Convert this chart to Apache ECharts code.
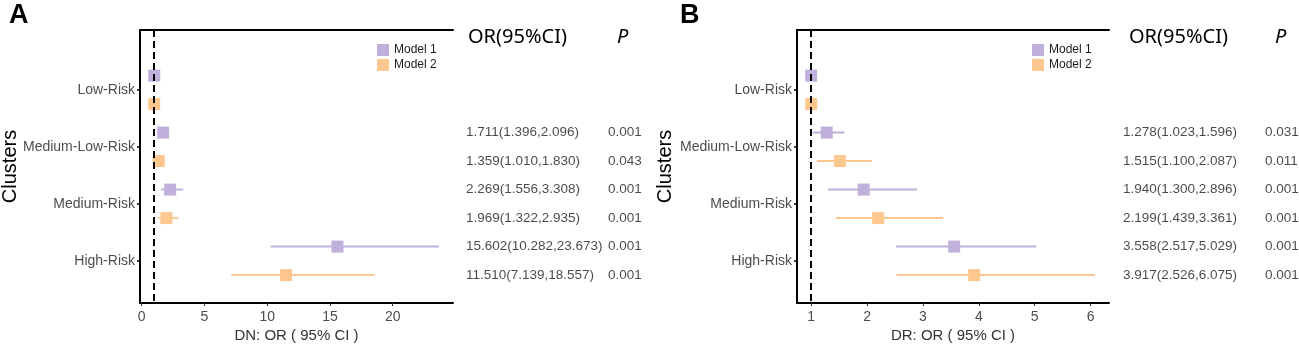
<!DOCTYPE html>
<html lang="en">

<head>
  <meta charset="UTF-8">
  <title>Forest plot</title>
  <script src="https://cdn.jsdelivr.net/npm/echarts@6/dist/echarts.min.js"></script>
  <style>
    body { margin: 0; background: #fff; }
  </style>
</head>

<body>
  <div id="chart" style="width: 1299px;height: 346px;"></div>
  <script>
    // categories (top to bottom) and models
    const clusters = ['Low-Risk', 'Medium-Low-Risk', 'Medium-Risk', 'High-Risk']
    const models = ['Model 1', 'Model 2']

    // panel A - DN
    const dnOr = [[1, 1.711, 2.269, 15.602], [1, 1.359, 1.969, 11.510]]
    const dnLo = [[1, 1.396, 1.556, 10.282], [1, 1.010, 1.322, 7.139]]
    const dnHi = [[1, 2.096, 3.308, 23.673], [1, 1.830, 2.935, 18.557]]
    const dnP = [['', '0.001', '0.001', '0.001'], ['', '0.043', '0.001', '0.001']]
    const dnTicks = [0, 5, 10, 15, 20]

    // panel B - DR
    const drOr = [[1, 1.278, 1.940, 3.558], [1, 1.515, 2.199, 3.917]]
    const drLo = [[1, 1.023, 1.300, 2.517], [1, 1.100, 1.439, 2.526]]
    const drHi = [[1, 1.596, 2.896, 5.029], [1, 2.087, 3.361, 6.075]]
    const drP = [['', '0.031', '0.001', '0.001'], ['', '0.011', '0.001', '0.001']]
    const drTicks = [1, 2, 3, 4, 5, 6]

    const colors = ['#bfb0dc', '#fdc78f']
    const dodge = [-0.25, 0.25]
    const yMin = -1.05, yMax = 3.74
    const labelColor = '#4d4d4d'

    const chart = echarts.init(document.getElementById('chart'))

    // ggplot style 5% expansion of the data range
    function range(lo, hi) {
      const a = Math.min(...lo.flat()), b = Math.max(...hi.flat())
      const pad = (b - a) * 0.05
      return [a - pad, b + pad]
    }

    const grids = [], xAxes = [], yAxes = [], series = []

    function panel(p, left, width, tableLeft, pLeft, orv, lo, hi, pv, ticks, xname) {
      const g = grids.length
      const [xmin, xmax] = range(lo, hi)
      grids.push({ left: left, top: 30, width: width, height: 273, outerBoundsMode: 'none' })
      grids.push({ left: tableLeft, top: 30, width: 200, height: 273, outerBoundsMode: 'none' })

      // bottom axis
      xAxes.push({
        type: 'value', gridIndex: g, min: xmin, max: xmax, splitLine: { show: false },
        axisLine: { onZero: false, lineStyle: { color: '#000', width: 2 } },
        axisTick: { customValues: ticks, length: 3, lineStyle: { color: '#333' } },
        axisLabel: { customValues: ticks, color: labelColor, fontSize: 14, fontFamily: 'Liberation Sans', margin: 7 },
        name: xname, nameLocation: 'middle', nameGap: 25, nameMoveOverlap: false,
        nameTextStyle: { color: '#333', fontSize: 15, fontFamily: 'Liberation Sans' }
      })
      // top border
      xAxes.push({
        type: 'value', gridIndex: g, position: 'top', min: xmin, max: xmax,
        axisLine: { onZero: false, lineStyle: { color: '#000', width: 2 } },
        axisTick: { show: false }, axisLabel: { show: false }, splitLine: { show: false }
      })
      // table axis (pixel columns)
      xAxes.push({ type: 'value', gridIndex: g + 1, min: 0, max: 200, show: false })

      const yIdx = yAxes.length
      yAxes.push({
        type: 'value', gridIndex: g, inverse: true, min: yMin, max: yMax, splitLine: { show: false },
        axisLine: { onZero: false, lineStyle: { color: '#000', width: 2 } },
        axisTick: { customValues: [0, 1, 2, 3], length: 3, lineStyle: { color: '#000', width: 1.5 } },
        axisLabel: {
          customValues: [0, 1, 2, 3], formatter: v => clusters[v] || '',
          color: labelColor, fontSize: 14, fontFamily: 'Liberation Sans', margin: 5
        },
        name: 'Clusters', nameLocation: 'middle', nameGap: p === 0 ? 120 : 122, nameRotate: 90,
        nameMoveOverlap: false,
        nameTextStyle: { color: '#000', fontSize: 20, fontFamily: 'Liberation Sans' }
      })
      yAxes.push({ type: 'value', gridIndex: g + 1, inverse: true, min: yMin, max: yMax, show: false })

      const xIdx = xAxes.length - 3
      models.forEach((m, k) => {
        const rows = clusters.map((c, i) => [orv[k][i], i + dodge[k], lo[k][i], hi[k][i]])
        // confidence interval lines
        series.push({
          type: 'custom', name: m, xAxisIndex: xIdx, yAxisIndex: yIdx, z: 2,
          data: rows,
          renderItem(params, api) {
            const y = api.value(1)
            const a = api.coord([api.value(2), y]), b = api.coord([api.value(3), y])
            return {
              type: 'line', shape: { x1: a[0], y1: a[1], x2: b[0], y2: b[1] },
              style: { stroke: colors[k], lineWidth: 2 }
            }
          },
          encode: { x: [0, 2, 3], y: 1 }
        })
        // point estimates
        const s = {
          type: 'scatter', name: m, xAxisIndex: xIdx, yAxisIndex: yIdx, z: 3,
          symbol: 'rect', symbolSize: 12, itemStyle: { color: colors[k], opacity: 1 },
          data: rows.map(r => [r[0], r[1]])
        }
        if (k === 1) {
          s.markLine = {
            silent: true, symbol: 'none', z: 5, label: { show: false },
            lineStyle: { color: '#000', type: [7, 4], width: 2 },
            data: [{ xAxis: 1 }]
          }
        }
        series.push(s)
        // table text
        const txt = clusters.map((c, i) => i === 0 ? null : [0, i + dodge[k],
          `${orv[k][i].toFixed(3)}(${lo[k][i].toFixed(3)},${hi[k][i].toFixed(3)})`])
        const ptx = clusters.map((c, i) => i === 0 ? null : [pLeft - tableLeft, i + dodge[k], pv[k][i]])
        ;[txt, ptx].forEach(d => series.push({
          type: 'scatter', xAxisIndex: xIdx + 2, yAxisIndex: yIdx + 1, symbolSize: 0,
          data: d.filter(Boolean), silent: true,
          label: {
            show: true, position: 'right', distance: 0, formatter: q => q.data[2],
            color: '#1a1a1a', fontSize: 13.5, fontFamily: 'Liberation Sans'
          }
        }))
      })
    }

    panel(0, 140, 313, 466, 608, dnOr, dnLo, dnHi, dnP, dnTicks, 'DN: OR ( 95% CI )')
    panel(1, 797, 312, 1123, 1265, drOr, drLo, drHi, drP, drTicks, 'DR: OR ( 95% CI )')

    const headStyle = { fill: '#000', fontSize: 20, fontFamily: 'Noto Sans' }
    const option = {
      animation: false,
      grid: grids,
      xAxis: xAxes,
      yAxis: yAxes,
      series: series,
      legend: [
        { left: 372, top: 39, orient: 'vertical', itemWidth: 12, itemHeight: 12, itemGap: 3 },
        { left: 1027, top: 39, orient: 'vertical', itemWidth: 12, itemHeight: 12, itemGap: 3 }
      ].map(l => Object.assign(l, {
        data: models.map((m, k) => ({ name: m, icon: 'rect', itemStyle: { color: colors[k] } })),
        textStyle: { color: '#1a1a1a', fontSize: 12, fontFamily: 'Liberation Sans' }
      })),
      graphic: [
        { type: 'text', left: 9, top: 2, style: { text: 'A', fill: '#000', fontSize: 27, fontWeight: 'bold', fontFamily: 'Liberation Sans' } },
        { type: 'text', left: 680, top: 2, style: { text: 'B', fill: '#000', fontSize: 27, fontWeight: 'bold', fontFamily: 'Liberation Sans' } },
        { type: 'text', left: 468, top: 27, style: Object.assign({ text: 'OR(95%CI)' }, headStyle) },
        { type: 'text', left: 617, top: 27, style: Object.assign({ text: 'P', fontStyle: 'italic' }, headStyle) },
        { type: 'text', left: 1129, top: 27, style: Object.assign({ text: 'OR(95%CI)' }, headStyle) },
        { type: 'text', left: 1275, top: 27, style: Object.assign({ text: 'P', fontStyle: 'italic' }, headStyle) }
      ]
    }

    chart.setOption(option)
  </script>
</body>

</html>
